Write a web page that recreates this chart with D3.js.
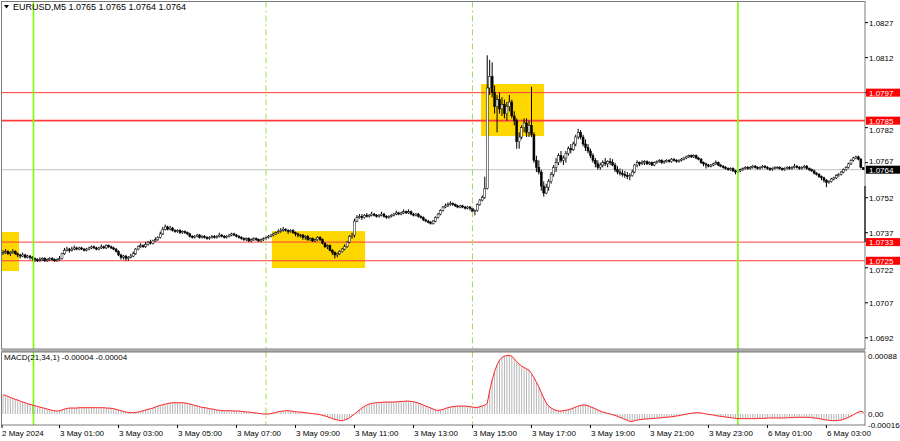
<!DOCTYPE html>
<html><head><meta charset="utf-8">
<script src="https://cdn.jsdelivr.net/npm/d3@7"></script>
<style>body{margin:0;background:#fff}svg{display:block}text{font-family:"Liberation Sans",Arial,sans-serif;font-size:8px;fill:#000}</style>
</head><body><svg id="c" width="900" height="441"></svg>
<script>
const symbolTitle = "EURUSD,M5  1.0765 1.0765 1.0764 1.0764";
const macdTitle = "MACD(21,34,1) -0.00004 -0.00004";
const pipBase = 1.07, pip = 0.0001;
const firstOpen = 28;
// prices in pips above 1.0700; open of each bar = previous close
const closes = [28.5,29,28,28.5,29,28,27.5,27,27.5,26.5,27,26.5,26,25.5,25,25.5,26,25,25.5,26,25.5,25,25.5,26,
28,29.5,30,29.5,30,30.5,30,30.5,30,29.5,30,30.5,31,30.5,30,30.5,31,30.5,31.5,31,30.5,30,29,
27.5,26.5,27,26,26.5,27,28,30,31,31.5,31,32,33,32.5,33.5,34,35,36.5,38.5,39.5,38.5,39,
38,37.5,38,37,37.5,37,36.5,35.5,35,35.5,36,35,35.5,35,34.5,35,35.5,35,35.5,36,35.5,35,35.5,36,36.5,36,35.5,35,
34.5,34,34.5,33.5,34,34.5,34,33.5,34,34.5,35,35.5,36,36.5,37,37.5,38,38.5,38,37.5,38,37,36.5,36,36,
35,35.5,34,34.5,33.5,34,35,34,32.5,31,31.5,29.5,28.5,27.5,28,29,30,31,33,35.5,36,42,43.5,44,43.5,44.5,
44,44.5,45,44.5,44,44.5,45,44,43.5,44,44.5,45,45.5,45,45.5,46,45.5,46,45,44.5,45,44,43.5,
42.5,42,41.5,41,42,43.5,45,46.5,48,48.5,49,49.5,49,48.5,48,48.5,48,47.5,48,47.5,46,46.5,49,51,52,56,99,
104,97,91,94,90,92,88,91,93,87,85,76,78,82,84,80,83,79,68,65,63,57,54,56.5,59,62,65,67,70,68,69,71,73,72.5,75,78,80,78,75,73.5,72,70,68,66.5,65,66,67,66.5,67.5,67,66,64,63,62.5,62,61.5,61,61.5,63,66,67,
66.5,67,67.5,66.5,67,66,67,67.5,68,67,67.5,68,67.5,68.5,68,67.5,68,68.5,69,69.5,70,69.5,70,69,68.5,67,66.5,66,65.5,66,66.5,67,66,65.5,65,64.5,64,64.5,63.5,63,63.5,64,
64.5,65,64.5,65,65.5,65,64.5,65,65.5,65,64.5,64,64.5,65,65,64.5,64,64.5,65,64.5,65,65.5,65,64.5,
65,65.5,64.5,64,63.5,62.5,62,61,60.5,59.5,58.5,59,60,60.5,61.5,62,63,64,65,66.5,68,69,69.5,68.5,65,64];
const highs = [29.5,30,29.5,29,30,29.5,28.5,28,28.5,28,27.5,27.5,27,26.5,26,26.5,26.5,26.5,26,26.5,26.5,26,26,27,
28.5,30.5,31,30.5,31,31.5,31,31,31,30.5,30.5,31,31.5,31.5,31,31,32,31.5,32,32,31.5,31,30.5,
29.5,28,27.5,27.5,27,28,29,30.5,31.5,32.5,32,33,33.5,34,34,35,35.5,37.5,39.5,40.5,40,40,
39.5,38.5,38.5,38.5,38,38,37.5,37,36,36,36.5,36.5,36,36,35.5,35.5,36,36,36,37,36.5,36,36,36.5,37,37,36.5,36,
35.5,35,35,35,34.5,35,35,34.5,34.5,35,35.5,36,36.5,37,37.5,38.5,39,39.5,39,38.5,38.5,38.5,37.5,37,36.5,
36.5,36,36,35,35,34.5,35.5,35.5,34.5,33,32,32,30,29,28.5,29.5,30.5,32,33.5,36,37,43,44.5,45,45,45,
45.5,45,46,45.5,45,45,46,45.5,44.5,44.5,45,45.5,46.5,46,46,47,46.5,47,46.5,45.5,45.5,45.5,44.5,
44,43,42.5,42,42.5,44,45.5,47,48.5,49.5,50,50.5,50,49.5,49,49,49,48.5,48.5,48.5,48,47,49.5,51.5,53,61,113,
111,110,100,96,97,95,94,93,96,94,89,86,80,83,86,86,85,99.5,80,70,68,64,59,58,60,63,66,69,71,72,70,72,74,75,76,79,81.5,81,79,77,75,73,71,69,68,67,68,69,68,69,68.5,67,65.5,64.5,64,63.5,63,62.5,64,66.5,68,
67.5,68,68,68,67.5,67.5,67.5,68,68.5,68.5,68,68.5,68.5,69,69,68.5,68.5,69,69.5,70,70.5,70.5,70.5,70.5,69.5,69,67.5,67,66.5,66.5,67,68,67.5,66.5,66,65.5,65,65,65,64,64,64.5,
65,65.5,65.5,65.5,66,66,65.5,65.5,66,66,65.5,65,65,65.5,65.5,65.5,65,65,65.5,65.5,65.5,66.5,66,65.5,
65.5,66,66,65,64.5,64,63,62.5,61.5,61,60,59.5,60.5,61,62,62.5,63.5,64.5,65.5,67,68.5,69.5,70,70,69,65];
const lows = [27.5,28,27.5,27,28,27.5,26.5,26,26.5,26,26,25.5,25,24.5,24.5,24.5,25,24.5,24.5,25,25,24.5,24.5,25,
25.5,27.5,29,28.5,29,29.5,29.5,29.5,29.5,29,29,29.5,30,30,29.5,29.5,30,30,30,30.5,30,29.5,28.5,
27,25.5,25.5,25,25,26,26.5,27.5,29.5,30.5,30.5,30.5,31.5,32,32,33,33.5,34.5,36,38,38,38,
37.5,37,37,36.5,36.5,36.5,36,35,34.5,34.5,35,34.5,34.5,34.5,34,34,34.5,34.5,34.5,35,35,34.5,34.5,35,35.5,35.5,35,34.5,
34,33.5,33.5,33,33,33.5,33.5,33,33,33.5,34,34.5,35,35.5,36,36.5,37,37.5,37.5,36.5,37,36.5,35.5,35,35,
34,34,33.5,33.5,33,33,33.5,33.5,32,30.5,30,29,27.5,26,26.5,27.5,28.5,29.5,30.5,32.5,34.5,35,41.5,43,42.5,43,
43.5,43.5,44,44,43.5,43.5,44,43.5,43,43,43.5,44,44.5,44.5,44.5,45,45,45,44.5,44,44,43.5,43,
42,41.5,41,40.5,40.5,41.5,43,44.5,46,47.5,48,48.5,48.5,48,47.5,47.5,47.5,47,47,46.5,45.5,44.5,46,48.5,50.5,51.5,55.5,
96,95,88,80,88,87,86,85,89,86,83,73,73,77,80,78,78,78,67,63,62,55,52.5,53.5,55,58,61,63,66,67,66,67,70,71,72,74,77,77,74,72,71,69,67,65,64,64,65,65.5,65,66,65.5,63,62,61.5,61,60.5,60,59.5,61,62.5,65,
65.5,66,66,66,66,65.5,65.5,66.5,67,66.5,66.5,67,67,67,67.5,67,67,67.5,68,68.5,69,69,69,68.5,68,66.5,65.5,64.5,65,65,65.5,66,65.5,65,64.5,64,63.5,63.5,63,62,62.5,63,
63.5,64,64,64,64.5,64.5,64,64,64.5,64.5,64,63.5,63.5,64,64.5,64,63.5,63.5,64,64,64,64.5,64.5,64,
64,64.5,64,63.5,63,62,61.5,60.5,59.5,58.5,56.5,58,58.5,59.5,60,61,61.5,62.5,63.5,64.5,66,67.5,68.5,68,64.5,64];
// MACD main (= signal, period 1) in units of 0.00001
const macdVals = [29,28,26.5,25,23.5,22,21,19.5,18,17,15.5,14.5,13.5,12.5,11.5,10.5,9.5,8.5,7.5,6.5,5.5,5,4.5,
5,6,7.5,8.5,9,9,9,9,9.5,9.5,9.5,9.5,9.5,9.5,9.5,9.5,9.5,9.5,9.5,9,9,8.5,8,7,
6,5,4,3,2.5,2,2,2.5,3,4,5,6,7,8,9,10.5,12,13,14,15,16,16.5,
17,17,17,17,17,16.5,16,15,14,13,12,11,10,9.5,9,8,7.5,7,6,5.5,5,5,5,5,5,4.5,4.5,4.5,
4,3.5,3,3,2.5,2,1.5,1,0.5,0,0,0,0.5,1.5,2.5,3.5,4,4.5,5,5,4.5,4,3.5,3,3,2.5,2,1.5,1,0.5,0,0,
-1,-2,-3,-4,-5.5,-7,-8,-9,-10,-10,-9,-7.5,-5.5,-3,0,3,6,9,11.5,13.5,15,
16,16.5,17,17.5,17.5,18,18,18,18,18,18.5,18.5,19,19,19.5,19.5,19,18.5,17.5,16.5,15,13.5,12,10.5,9,7.5,6,5.5,6,
7,8.5,9.5,10.5,11,11.5,12,12,12,12,11.5,11,10.5,10,10,11,12,13.5,16,
35,51,64,74,81,85,87,88,88.5,87,83,79,75,72,70,68,66,61,55,48,41,32,24,17,12,9,7,5.5,4.5,4.5,5,5.5,6.5,7.5,9,10.5,12,13,13.5,13.5,12.5,11,9.5,8,6,4.5,3,2,1,0,-1,-2,-3.5,-5,-6.5,-8,-9.5,-11,-11,-10,-9,
-8.5,-8,-7.5,-7.5,-7,-7,-6.5,-6,-6,-5.5,-5,-5,-4.5,-4,-3.5,-3,-2.5,-1.5,-1,0,0.5,1,1.5,2,2,1.5,1,0,-0.5,-1,-1.5,-2.5,-3,-3.5,-4,-4.5,-5,-5.5,-6,-6.5,-7,-7,
-7,-7,-7,-7,-7,-7,-6.5,-6.5,-6.5,-6.5,-6,-6,-6,-6,-6,-6,-6,-6,-5.5,-5.5,-5.5,-5,-5,-5,
-5,-5,-5,-5,-5.5,-6,-6.5,-7,-7.5,-8.5,-9,-9.5,-10,-10,-10,-9.5,-9,-8,-6.5,-5,-3,-1,1,3,4,3];
const priceTicks = [1.0827,1.0812,1.0797,1.0782,1.0767,1.0752,1.0737,1.0722,1.0707,1.0692];
const levelLines = [1.0797,1.0785,1.0733,1.0725];
const levelWidths = [1,1.6,1,1];
const currentPrice = 1.0764;
const edgeSegment = [1.0757,1.0733];
const timeTickBars = [0,23,47,71,95,119,143,167,191,215,239,263,287,311,335];
const timeTickLabels = ["2 May 2024","3 May 01:00","3 May 03:00","3 May 05:00","3 May 07:00","3 May 09:00","3 May 11:00","3 May 13:00","3 May 15:00","3 May 17:00","3 May 19:00","3 May 21:00","3 May 23:00","6 May 01:00","6 May 03:00"];
const solidMarkers = [12.4,299];
const dashedMarkers = [107,191];
const boxStart = [-1.5,109.4,194.5], boxEnd = [6.5,147.3,220.1];
const boxTop = [1.07373,1.07377,1.08007], boxBottom = [1.07206,1.07219,1.07784];
const macdAxisValues = [0.00088,0,-0.00016], macdAxisText = ["0.00088","0.00","-0.00016"];

const svg = d3.select("#c");
const L = 1.5, R = 865, T = 1.5, B = 349, MT = 352, MB = 425;
const xs = d3.scaleLinear().domain([0, 350]).range([3, 3 + 350 * 2.458]);
const ys = d3.scaleLinear().domain([1.068721, 1.083582]).range([B, 2]);
const ym = d3.scaleLinear().domain([-0.000165, 0.000933]).range([MB, MT]);
const P = v => pipBase + v * pip;

const bars = closes.map((c, i) => ({i, o: i === 0 ? firstOpen : closes[i-1], h: highs[i], l: lows[i], c}));

const main = svg.append("g");
svg.append("clipPath").attr("id","cm").append("rect").attr("x",L).attr("y",T).attr("width",R-L).attr("height",B-T);

// boxes
main.append("g").attr("clip-path","url(#cm)").selectAll("rect").data(boxStart).join("rect")
  .attr("x",(d,k)=>xs(d)).attr("width",(d,k)=>xs(boxEnd[k])-xs(d))
  .attr("y",(d,k)=>ys(boxTop[k])).attr("height",(d,k)=>ys(boxBottom[k])-ys(boxTop[k]))
  .attr("fill","#ffd700");

// current price line
main.append("line").attr("x1",L).attr("x2",R).attr("y1",ys(currentPrice)).attr("y2",ys(currentPrice)).attr("stroke","#c0c0c0").attr("stroke-width",1);

// level lines
main.selectAll("line.lvl").data(levelLines).join("line").attr("class","lvl")
  .attr("x1",L).attr("x2",R).attr("y1",d=>ys(d)).attr("y2",d=>ys(d))
  .attr("stroke","#ff3b3b").attr("stroke-width",(d,k)=>levelWidths[k]);

// vertical markers across both panels
svg.selectAll("line.sm").data(solidMarkers).join("line").attr("class","sm")
  .attr("x1",d=>xs(d)).attr("x2",d=>xs(d)).attr("y1",T).attr("y2",MB).attr("stroke","#7cfc00").attr("stroke-width",1.6);
svg.selectAll("line.dm").data(dashedMarkers).join("line").attr("class","dm")
  .attr("x1",d=>xs(d)).attr("x2",d=>xs(d)).attr("y1",T).attr("y2",MB).attr("stroke","#9be24a").attr("stroke-width",1).attr("stroke-dasharray","6,3,2,3");

// candles
const cg = main.append("g").attr("clip-path","url(#cm)");
cg.selectAll("line.w").data(bars).join("line").attr("class","w")
  .attr("x1",d=>xs(d.i)).attr("x2",d=>xs(d.i)).attr("y1",d=>ys(P(d.h))).attr("y2",d=>ys(P(d.l)))
  .attr("stroke","#000").attr("stroke-width",1);
cg.selectAll("rect.b").data(bars).join("rect").attr("class","b")
  .attr("x",d=>xs(d.i)-1).attr("width",2)
  .attr("y",d=>ys(P(Math.max(d.o,d.c))))
  .attr("height",d=>Math.max(0.8, ys(P(Math.min(d.o,d.c))) - ys(P(Math.max(d.o,d.c)))))
  .attr("fill",d=>d.c>=d.o?"#fff":"#000").attr("stroke","#000").attr("stroke-width",0.5);

// edge segment
main.append("line").attr("x1",R).attr("x2",R).attr("y1",ys(edgeSegment[0])).attr("y2",ys(edgeSegment[1])).attr("stroke","#000").attr("stroke-width",1.6);

// MACD histogram and line
const mg = svg.append("g");
mg.selectAll("line.h").data(macdVals).join("line").attr("class","h")
  .attr("x1",(d,i)=>xs(i)).attr("x2",(d,i)=>xs(i)).attr("y1",ym(0)).attr("y2",d=>ym(d*1e-5))
  .attr("stroke","#b4b4b4").attr("stroke-width",1);
mg.append("path").datum(macdVals).attr("fill","none").attr("stroke","#ff2020").attr("stroke-width",1)
  .attr("d",d3.line().x((d,i)=>xs(i)).y(d=>ym(d*1e-5)));

// frames
svg.append("rect").attr("x",L).attr("y",T).attr("width",R-L).attr("height",B-T).attr("fill","none").attr("stroke","#7a7a7a").attr("stroke-width",1);
svg.append("rect").attr("x",L).attr("y",B).attr("width",R-L).attr("height",MT-B).attr("fill","#a8a8a8");
svg.append("rect").attr("x",L).attr("y",MT).attr("width",R-L).attr("height",MB-MT).attr("fill","none").attr("stroke","#7a7a7a").attr("stroke-width",1);

// price axis
const ax = svg.append("g");
const tagPrices = levelLines.concat([currentPrice]);
// tick label baseline, nudged clear of any price tag it would touch
const tickBaseline = d => {
  const y = ys(d);
  let base = y + 3;
  tagPrices.forEach(p => {
    const ty = ys(p);
    if (Math.abs(ty - y) < 0.5) return;
    if (y > ty && y - ty < 12) base = Math.max(base, ty + 4 + 8);
    if (y < ty && ty - y < 12) base = Math.min(base, ty - 4 - 2);
  });
  return base;
};
ax.selectAll("line.pt").data(priceTicks).join("line").attr("class","pt")
  .attr("x1",R).attr("x2",R+3).attr("y1",d=>ys(d)).attr("y2",d=>ys(d)).attr("stroke","#000");
ax.selectAll("text.pt").data(priceTicks.filter(d=>!levelLines.some(v=>Math.abs(v-d)<1e-6))).join("text").attr("class","pt")
  .attr("x",869).attr("y",tickBaseline).text(d=>d.toFixed(4));
// level labels
levelLines.forEach(v=>{
  ax.append("rect").attr("x",866).attr("y",ys(v)-4).attr("width",34).attr("height",8).attr("fill","#ff0000");
  ax.append("text").attr("x",869).attr("y",ys(v)+3).style("fill","#fff").text(v.toFixed(4));
});
ax.append("rect").attr("x",866).attr("y",ys(currentPrice)-4).attr("width",34).attr("height",8).attr("fill","#000");
ax.append("text").attr("x",869).attr("y",ys(currentPrice)+3).style("fill","#fff").text(currentPrice.toFixed(4));

// MACD axis
ax.selectAll("text.ma").data(macdAxisValues).join("text").attr("class","ma")
  .attr("x",868).attr("y",(d,k)=>ym(d)+3).text((d,k)=>macdAxisText[k]);

// time axis
svg.selectAll("line.tt").data(timeTickBars).join("line").attr("class","tt")
  .attr("x1",d=>d===0?2:xs(d)).attr("x2",d=>d===0?2:xs(d)).attr("y1",MB).attr("y2",MB+3).attr("stroke","#000");
svg.selectAll("text.tt").data(timeTickBars).join("text").attr("class","tt")
  .attr("x",d=>d===0?2:xs(d)+0.5).attr("y",436).text((d,k)=>timeTickLabels[k]);

// titles
svg.append("path").attr("d","M4,5 L9,5 L6.5,8.5 Z").attr("fill","#000");
svg.append("text").attr("x",13).attr("y",10).style("font-size","9px").text(symbolTitle);
svg.append("text").attr("x",4).attr("y",360).text(macdTitle);
</script></body></html>
